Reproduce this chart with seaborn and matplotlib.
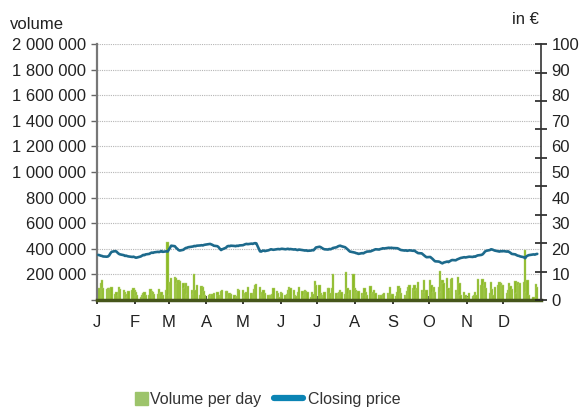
import numpy as np
import pandas as pd
import matplotlib
matplotlib.use("Agg")
import matplotlib.pyplot as plt
from matplotlib.lines import Line2D
from matplotlib.patches import Rectangle, Patch
from matplotlib.legend_handler import HandlerPatch
from matplotlib.ticker import FuncFormatter, FixedLocator
import seaborn as sns

# daily traded volume, in thousands (one row per month)
volume_k = [
    40, 90, 130, 155, 90, 85, 90, 92, 88, 100, 50, 65, 40, 100, 85, 78, 60, 45, 25, 70, 78, 90,
    78, 60, 40, 20, 40, 55, 65, 40, 35, 85, 70, 65, 45, 50, 85, 55, 60, 40, 75, 450,
    40, 140, 170, 180, 175, 130, 155, 145, 130, 90, 130, 50, 110, 80, 50, 200, 78, 115, 40, 110, 100, 70, 40,
    40, 45, 40, 50, 55, 65, 40, 30, 73, 78, 70, 73, 25, 57, 45, 40, 25, 30, 83, 80,
    80, 25, 52, 60, 100, 52, 45, 83, 117, 125, 104, 40, 60, 78, 52, 40, 35, 40, 45, 91, 70, 52, 25,
    65, 57, 40, 45, 78, 100, 90, 78, 40, 30, 65, 104, 70, 40, 78, 73, 60, 25, 65, 50, 148, 117,
    117, 57, 40, 30, 65, 91, 91, 52, 91, 200, 52, 40, 65, 78, 65, 47, 220, 91, 47, 80, 205,
    91, 78, 65, 70, 52, 40, 91, 65, 40, 110, 52, 60, 78, 57, 40, 30, 40, 47, 57, 52, 45, 100, 47,
    47, 30, 65, 110, 91, 52, 40, 30, 73, 100, 117, 90, 117, 78, 91, 143, 78, 60, 156, 65, 78,
    156, 120, 65, 104, 65, 104, 228, 65, 156, 130, 169, 91, 78, 161, 169, 78, 60, 182, 130, 40, 65, 40,
    25, 15, 52, 30, 40, 65, 40, 161, 117, 161, 117, 143, 91, 52, 143, 83, 40, 104, 117, 143, 130, 117,
    117, 52, 80, 130, 110, 83, 151, 52, 143, 120, 130, 140, 390, 65, 156, 40, 10, 25, 0, 122, 104,
]

# closing price in EUR
price = [
    17.6, 17.5, 17.3, 17.2, 17.0, 16.9, 17.0, 17.4, 18.2, 18.8, 19.1, 18.9, 18.4, 18.0, 17.8, 17.5, 17.2, 17.3, 17.1, 17.0, 16.8, 16.9,
    16.7, 16.5, 16.6, 17.0, 17.3, 17.6, 17.5, 17.8, 18.0, 18.3, 18.5, 18.4, 18.6, 18.8, 18.7, 18.9, 19.1, 18.8, 19.0, 18.9,
    19.6, 20.4, 21.2, 21.0, 20.4, 20.0, 19.5, 19.3, 19.6, 20.0, 20.3, 20.4, 20.6, 20.8, 20.9, 21.1, 21.0, 21.2, 21.3, 21.4, 21.3, 21.5, 21.6,
    21.8, 21.9, 21.7, 21.5, 21.2, 21.0, 20.6, 20.0, 19.5, 19.8, 20.4, 20.9, 21.1, 21.0, 21.2, 21.1, 21.0, 21.2, 21.1, 21.3,
    21.4, 21.6, 21.8, 21.9, 21.8, 22.0, 21.9, 22.1, 22.2, 22.1, 19.0, 18.9, 19.2, 19.3, 19.1, 19.4, 19.6, 19.8, 19.7, 19.6, 19.8, 19.9, 19.8,
    19.9, 20.0, 19.8, 19.9, 20.0, 19.8, 19.9, 19.7, 19.8, 19.6, 19.5, 19.7, 19.5, 19.4, 19.3, 19.4, 19.2, 19.3, 19.5, 19.4, 19.9, 20.5,
    20.8, 20.6, 20.3, 20.0, 19.8, 19.7, 19.9, 19.8, 20.0, 20.3, 20.6, 20.9, 21.1, 21.2, 21.0, 20.6, 20.2, 19.8, 19.3, 18.9, 18.6,
    18.5, 18.3, 18.2, 18.0, 18.3, 18.2, 18.5, 18.7, 18.9, 19.0, 19.2, 19.4, 19.6, 19.8, 19.7, 19.9, 20.0, 20.2, 20.1, 20.3, 20.4, 20.3, 20.4,
    20.3, 20.2, 20.2, 20.0, 19.7, 19.5, 19.3, 19.4, 19.2, 19.3, 19.4, 19.2, 19.3, 18.9, 18.6, 18.3, 18.2, 17.8, 17.4, 17.0, 16.7,
    16.8, 16.4, 16.0, 15.5, 15.1, 15.0, 14.8, 14.5, 14.3, 14.6, 15.0, 14.8, 15.1, 15.4, 15.6, 15.5, 15.8, 16.0, 16.2, 16.4, 16.7, 16.6,
    16.7, 16.8, 16.9, 16.8, 17.0, 16.9, 17.2, 17.4, 17.6, 17.8, 18.3, 18.9, 19.2, 19.5, 19.8, 19.7, 19.5, 19.3, 19.0, 18.9, 19.1, 19.0,
    19.1, 18.9, 19.0, 18.7, 18.4, 18.0, 17.8, 17.5, 17.3, 17.2, 17.0, 16.7, 16.3, 17.0, 17.3, 17.5, 17.7, 17.8, 17.7, 17.9, 18.0,
]

month_labels = ["J", "F", "M", "A", "M", "J", "J", "A", "S", "O", "N", "D"]

dates = pd.bdate_range("2023-01-02", periods=len(volume_k))
df = pd.DataFrame({"date": dates, "volume": np.array(volume_k) * 1000, "price": price})

sns.set_style("white")
plt.rcParams["font.family"] = ["Liberation Sans", "DejaVu Sans"]

txt = "#222222"
green = "#8cba27"
blue = "#1d6a8c"
x0, x1 = pd.Timestamp("2023-01-01"), pd.Timestamp("2024-01-01")

fig = plt.figure(figsize=(5.81, 4.16), dpi=100)
ax = fig.add_axes([0.167, 0.279, 0.764, 0.615])

ax.bar(df["date"], df["volume"], width=1.9, color=green, edgecolor="#b9d67a",
       linewidth=0.3, zorder=2)
ax.set_ylim(0, 2_000_000)
ax.set_xlim(x0, x1)
ax.yaxis.set_major_locator(FixedLocator(np.arange(0, 2_000_001, 200_000)))
ax.yaxis.set_major_formatter(FuncFormatter(lambda v, p: "" if v == 0 else f"{int(v):,}".replace(",", " ")))
ax.set_xticks(pd.date_range("2023-01-01", periods=12, freq="MS"))
ax.set_xticklabels(month_labels)
ax.tick_params(axis="x", direction="inout", length=6, width=1.2, color="#111111",
               pad=8, labelsize=12, labelcolor=txt, bottom=True)
ax.tick_params(axis="y", direction="out", length=4, width=1, color="#666666",
               pad=4, labelsize=12, labelcolor=txt, left=True)
ax.xaxis.grid(False)
ax.yaxis.grid(True, linestyle=(0, (1, 1)), color="#b5b5b5", linewidth=0.8)
ax.set_axisbelow(True)

for s in ["top", "right"]:
    ax.spines[s].set_visible(False)
ax.spines["left"].set_color("#777777")
ax.spines["left"].set_linewidth(1.6)
ax.spines["bottom"].set_color("#46561a")
ax.spines["bottom"].set_linewidth(2.5)
ax.spines["bottom"].set_zorder(3)
ax.set_xlabel("")
ax.set_ylabel("")

ax2 = ax.twinx()
sns.lineplot(data=df, x="date", y="price", ax=ax2, color=blue, linewidth=1.9, zorder=3)
ax2.set_ylim(0, 100)
ax2.set_xlim(x0, x1)
ax2.set_ylabel("")
ax2.set_xlabel("")
ax2.grid(False)
for s in ["top", "left", "bottom"]:
    ax2.spines[s].set_visible(False)
ax2.spines["right"].set_color("#333333")
ax2.spines["right"].set_linewidth(1.2)
# tick marks and number labels on the price axis are not aligned in the original
ax2.yaxis.remove_overlapping_locs = False
ax2.yaxis.set_major_locator(FixedLocator(np.linspace(0, 100, 10)))
ax2.yaxis.set_major_formatter(FuncFormatter(lambda v, p: ""))
ax2.yaxis.set_minor_locator(FixedLocator(np.arange(0, 101, 10)))
ax2.yaxis.set_minor_formatter(FuncFormatter(lambda v, p: f"{int(round(v))}"))
ax2.tick_params(axis="y", which="major", direction="inout", length=9, width=1.2,
                color="#222222", right=True)
ax2.tick_params(axis="y", which="minor", length=0, pad=7.5, labelsize=12,
                labelcolor=txt, right=True)

fig.text(0.017, 0.94, "volume", fontsize=12, color=txt, va="center", ha="left")
fig.text(0.905, 0.953, "in €", fontsize=12, color=txt, va="center", ha="center")


def square_handle(legend, orig_handle, xdescent, ydescent, width, height, fontsize):
    s = height * 1.2
    return Rectangle((width - xdescent - s + 2, -ydescent - 0.15 * height), s, s)


handles = [
    Patch(color="#9dc46b"),
    Line2D([], [], color="#0b84b4", linewidth=4.5),
]
fig.legend(handles, ["Volume per day", "Closing price"], loc="lower center",
           bbox_to_anchor=(0.445, -0.012), ncol=2, frameon=False, fontsize=11.5,
           handlelength=1.8, handletextpad=0.3, columnspacing=0.8,
           labelcolor="#333333",
           handler_map={Patch: HandlerPatch(patch_func=square_handle)})

fig.savefig("out.png", dpi=100)
